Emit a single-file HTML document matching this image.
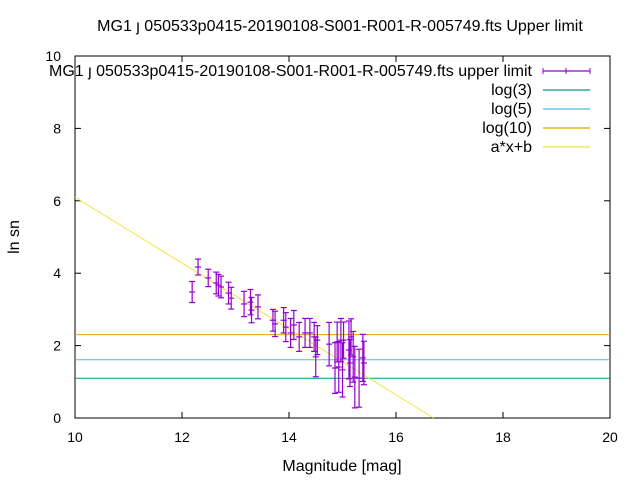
<!DOCTYPE html>
<html><head><meta charset="utf-8"><style>
body{margin:0;background:#fff}
svg{font-family:"Liberation Sans",sans-serif;font-size:14px}
.big{font-size:16px}
</style></head><body>
<svg id="c" width="640" height="480" xmlns="http://www.w3.org/2000/svg">
<rect width="640" height="480" fill="#fff"/>
<text class="big" x="340" y="31" text-anchor="middle">MG1 ȷ 050533p0415-20190108-S001-R001-R-005749.fts Upper limit</text>
<text class="big" x="342" y="471" text-anchor="middle">Magnitude [mag]</text>
<text class="big" transform="translate(19,237) rotate(-90)" text-anchor="middle">ln sn</text>
<g id="axes"></g>
<g id="marks"></g>
<g id="legend"></g>
</svg>
<script>
const mags=[12.19,12.3,12.49,12.64,12.68,12.73,12.87,12.92,13.16,13.28,13.3,13.42,13.7,13.74,13.9,13.94,14.03,14.09,14.19,14.3,14.39,14.47,14.5,14.53,14.75,14.86,14.9,14.93,14.97,15.0,15.02,15.12,15.14,15.16,15.2,15.23,15.31,15.38,15.4];
const vals=[3.48,4.17,3.87,3.73,3.67,3.62,3.45,3.31,3.15,3.2,2.98,3.07,2.7,2.6,2.7,2.51,2.35,2.57,2.24,2.35,2.35,2.24,1.69,2.15,2.04,1.38,2.1,1.41,2.15,1.33,2.15,1.88,1.52,2.24,1.69,1.13,1.1,1.66,1.52];
const errs=[0.29,0.22,0.24,0.3,0.3,0.3,0.3,0.3,0.35,0.35,0.35,0.33,0.3,0.35,0.35,0.4,0.4,0.4,0.4,0.4,0.4,0.4,0.55,0.4,0.6,0.7,0.55,0.7,0.6,0.75,0.5,0.8,0.65,0.5,0.7,0.85,0.8,0.65,0.6];
const xTicks=[10,12,14,16,18,20];
const yTicks=[0,2,4,6,8,10];
const fitA=-0.91, fitB=15.2;
const levels=[Math.log(3),Math.log(5),Math.log(10)];
const levelColors=["#009e73","#56b4e9","#e69f00"];
const NS="http://www.w3.org/2000/svg";
const X=v=>75+(v-10)*53.5, Y=v=>418-v*36.2;
function mk(parent,tag,attrs){const e=document.createElementNS(NS,tag);for(const k in attrs)e.setAttribute(k,attrs[k]);parent.appendChild(e);return e;}
const ax=document.getElementById('axes'), mg=document.getElementById('marks'), lg=document.getElementById('legend');
let f=mk(ax,'rect',{x:75,y:56,width:535,height:362,fill:'none',stroke:'#000','stroke-width':1});


xTicks.forEach(t=>{const x=X(t);
 mk(ax,'line',{x1:x,y1:418,x2:x,y2:412,stroke:'#000'});mk(ax,'line',{x1:x,y1:56,x2:x,y2:62,stroke:'#000'});
 const tx=mk(ax,'text',{x:x,y:442,'text-anchor':'middle'});tx.textContent=t;
 
 });
yTicks.forEach(t=>{const y=Y(t);
 mk(ax,'line',{x1:75,y1:y,x2:81,y2:y,stroke:'#000'});mk(ax,'line',{x1:610,y1:y,x2:604,y2:y,stroke:'#000'});
 const tx=mk(ax,'text',{x:61,y:y+5,'text-anchor':'end'});tx.textContent=t;
 
 });
levels.forEach((l,i)=>{const ln=mk(mg,'line',{x1:75,x2:610,y1:Y(l),y2:Y(l),stroke:levelColors[i],'stroke-width':1});
 
 });
const x1=10,x2=(0-fitB)/fitA;
const fl=mk(mg,'line',{x1:X(x1),y1:Y(fitA*x1+fitB),x2:X(x2),y2:Y(0),stroke:'#f0e442','stroke-width':1});


mags.forEach((m,i)=>{const x=X(m),y1=Y(vals[i]-errs[i]),y2=Y(vals[i]+errs[i]);
 const g=mk(mg,'g',{stroke:'#9400d3','stroke-width':1.2});
 
 
 mk(g,'line',{x1:x,x2:x,y1:y1,y2:y2});mk(g,'line',{x1:x-3,x2:x+3,y1:y1,y2:y1});mk(g,'line',{x1:x-3,x2:x+3,y1:y2,y2:y2});
 mk(g,'line',{x1:x-3,x2:x+3,y1:Y(vals[i]),y2:Y(vals[i])});});
const labels=["MG1 ȷ 050533p0415-20190108-S001-R001-R-005749.fts upper limit","log(3)","log(5)","log(10)","a*x+b"];
const lcols=["#9400d3","#009e73","#56b4e9","#e69f00","#f0e442"];
labels.forEach((s,i)=>{const y=71+i*19;
 const t=mk(lg,'text',{x:532,y:y+5,'text-anchor':'end','class':'big'});t.textContent=s;
 
 
 mk(lg,'line',{x1:543,x2:590,y1:y,y2:y,stroke:lcols[i],'stroke-width':1.2});
 if(i==0){[543,566,590].forEach(x=>mk(lg,'line',{x1:x,x2:x,y1:y-3,y2:y+3,stroke:lcols[0]}));}});
</script>
</body></html>
